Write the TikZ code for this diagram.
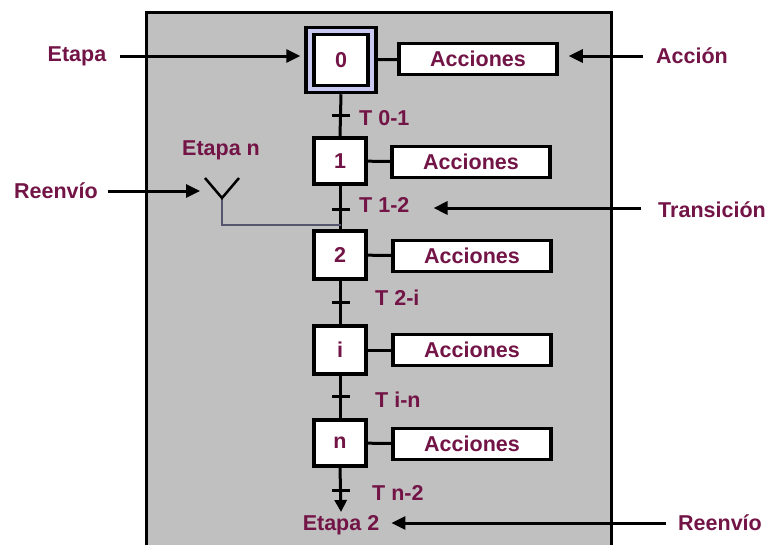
\documentclass[tikz,border=0pt]{standalone}
\usepackage{fontspec}
\setmainfont{Liberation Sans}
\usetikzlibrary{positioning, arrows.meta}
\definecolor{txt}{RGB}{115,20,70}
\definecolor{panel}{RGB}{192,192,192}
\definecolor{lav}{RGB}{200,200,240}
\definecolor{link}{RGB}{85,85,110}

\begin{document}
\begin{tikzpicture}[x=1pt, y=-1pt,
        stepbox/.style={draw=black, line width=3.5pt, fill=white, minimum width=52pt,
            minimum height=46pt, inner sep=0pt, font=\fontsize{21.5}{24}\selectfont\bfseries, text=txt},
        actbox/.style={draw=black, line width=3.5pt, fill=white, minimum width=158pt,
            minimum height=31pt, inner sep=0pt, font=\fontsize{21.5}{24}\selectfont\bfseries, text=txt},
        lab/.style={font=\fontsize{21.5}{24}\selectfont\bfseries, text=txt, inner sep=0pt},
        tick/.style={line width=3pt},
        ptr/.style={line width=3pt, -{Triangle[length=14pt,width=13pt]}}
    ]
    \useasboundingbox (0,0) rectangle (771,544);
    \draw[fill=panel, line width=3pt] (146,12) rectangle (611,560);
    % steps
    \node[draw=black, line width=3.5pt, fill=lav, minimum width=70pt, minimum height=65pt] (s0out) at (341,60) {};
    \node[stepbox, minimum width=54pt, minimum height=51pt] (s0) at (341,60) {0};
    \node[stepbox] (s1) at (340,161) {1};
    \node[stepbox, minimum height=48pt] (s2) at (340,255) {2};
    \node[stepbox, minimum height=48pt] (si) at (340,350) {i};
    \node[stepbox] (sn) at (340,443) {n};
    % actions
    \node[actbox] (a0) at (478,59) {Acciones};
    \node[actbox] (a1) at (471,162) {Acciones};
    \node[actbox] (a2) at (472,256) {Acciones};
    \node[actbox] (ai) at (472,350) {Acciones};
    \node[actbox] (an) at (472,444) {Acciones};
    \draw[line width=3pt] (s0out) -- (a0);
    \foreach \s/\a in {s1/a1, s2/a2, si/ai, sn/an}
        \draw[line width=3pt] (\s) -- (\a);
    % sequence
    \coordinate (e2tip) at (341,512);
    \draw[line width=3pt] (s0out.south) -- (s1.north);
    \draw[line width=3pt] (s1.south) -- (s2.north);
    \draw[line width=3pt] (s2.south) -- (si.north);
    \draw[line width=3pt] (si.south) -- (sn.north);
    \draw[line width=3pt, -{Triangle[length=12pt,width=12pt]}] (sn.south) -- (e2tip);
    \node[lab] (etapa2) at (341,525) {Etapa 2};
    % transitions
    \foreach \n/\y in {t01/115, t12/209, t2i/302, tin/396, tn2/490} {
        \coordinate (\n) at (341,\y);
        \draw[tick] ([xshift=-9pt]\n) -- ([xshift=9pt]\n);
    }
    \node[lab, anchor=west] (l01) at (359,118) {T 0-1};
    \node[lab, anchor=west] (l12) at (359,205) {T 1-2};
    \node[lab, anchor=west] (l2i) at (375,298) {T 2-i};
    \node[lab, anchor=west] (lin) at (375,400) {T i-n};
    \node[lab, anchor=west] (ln2) at (372,493) {T n-2};
    % jump to Etapa n
    \coordinate (rj) at (341,225);
    \coordinate (ry) at (222,198);
    \coordinate (rya) at (205,178);
    \coordinate (ryb) at (239,178);
    \draw[link, line width=2.5pt] (rj) -| (ry);
    \draw[line width=2.5pt] (rya) -- (ry) -- (ryb);
    \node[lab] (etapan) at (221,150) {Etapa n};
    % outside labels
    \node[lab] (etapa) at (77,56) {Etapa};
    \node[lab] (reen1) at (56,191) {Reenvío};
    \node[lab] (accion) at (692,56) {Acción};
    \node[lab] (trans) at (712,210) {Transición};
    \node[lab] (reen2) at (720,523) {Reenvío};
    \draw[ptr] ([xshift=14pt]etapa.east) -- ([xshift=-4pt]s0out.west |- etapa.east);
    \draw[ptr] ([xshift=-13pt]accion.west) -- ([xshift=10pt]a0.east |- accion.west);
    \draw[ptr] ([xshift=-17pt,yshift=2pt]trans.west) -- ([xshift=24pt,yshift=2pt]l12.east |- trans.west);
    \draw[ptr] ([xshift=10pt]reen1.east) -- ([xshift=-5pt]rya |- reen1.east);
    \draw[ptr] ([xshift=-12pt]reen2.west) -- ([xshift=12pt]etapa2.east |- reen2.west);
\end{tikzpicture}
\end{document}
